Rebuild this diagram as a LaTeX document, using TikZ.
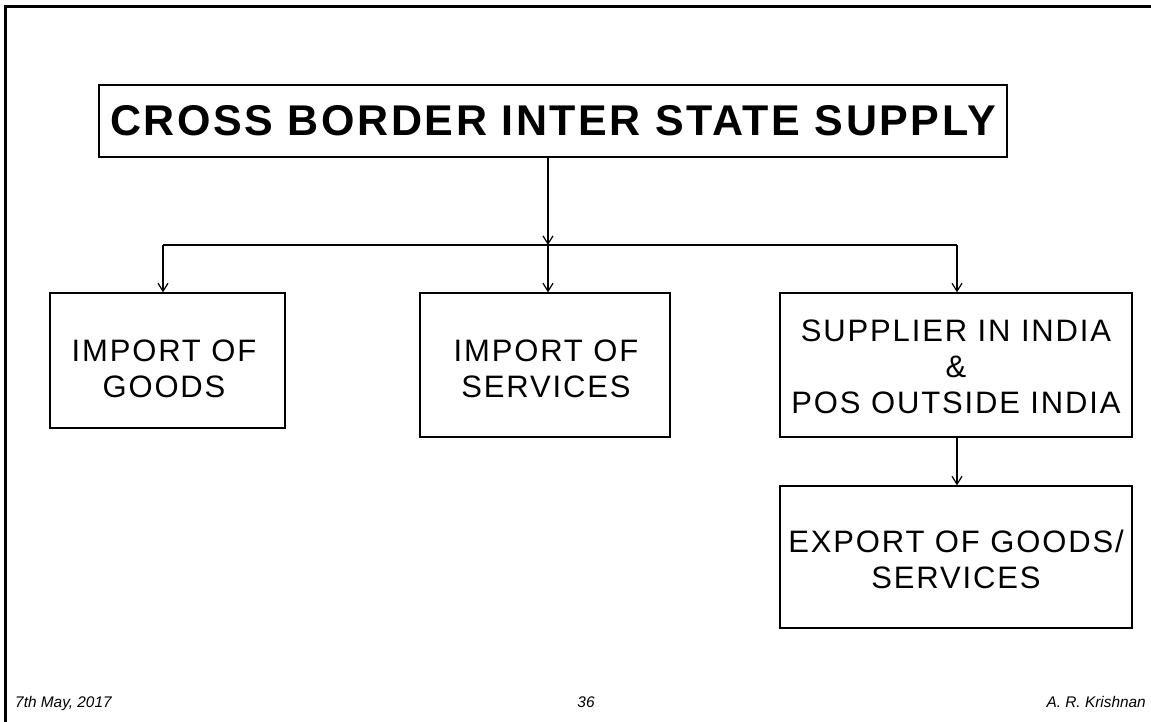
\documentclass[tikz,border=0pt]{standalone}
\usepackage{fontspec}
\setmainfont{Liberation Sans}
\newfontfamily\boxfont[LetterSpace=6]{Liberation Sans}
\newfontfamily\titlefont[LetterSpace=6]{Liberation Sans}
\usetikzlibrary{arrows.meta}
\begin{document}
\begin{tikzpicture}[x=1pt,y=-1pt,
  box/.style={draw=black,line width=1.3pt,inner sep=0pt},
  txt/.style={inner sep=0pt,align=center,font=\boxfont\fontsize{31}{36}\selectfont},
  conn/.style={line width=1.3pt,-{Straight Barb[length=8pt,width=10pt,line width=1.2pt]}},
  plain/.style={line width=1.3pt},
  foot/.style={font=\fontsize{15.4}{18}\selectfont\itshape,inner sep=0pt}]
\useasboundingbox (0,0) rectangle (1151,721);
% frame
\draw[line width=3pt] (5,722) -- (5,6) -- (1152,6);
% title
\node[box,minimum width=908pt,minimum height=72pt,font=\titlefont\fontsize{43}{50}\selectfont\bfseries]
  (title) at (553,121) {CROSS BORDER INTER STATE SUPPLY};
% boxes
\node[box,minimum width=235pt,minimum height=135pt] (goods) at (167.5,360.5) {};
\node[txt] (goodst) at (164,369) {IMPORT OF\\GOODS};
\node[box,minimum width=250pt,minimum height=144pt] (serv) at (545,365) {};
\node[txt] (servt) at (546,369) {IMPORT OF\\SERVICES};
\node[box,minimum width=352pt,minimum height=144pt] (supp) at (956,365) {};
\node[txt] (suppt) at (956,367) {SUPPLIER IN INDIA\\\&\\POS OUTSIDE INDIA};
\node[box,minimum width=352pt,minimum height=142pt] (exp) at (956,557) {};
\node[txt] (expt) at (956,559) {EXPORT OF GOODS/\\SERVICES};
% connectors
\coordinate (jm) at (548,245);
\coordinate (jl) at (163,245);
\coordinate (jr) at (957,245);
\draw[conn] (title.south -| jm) -- (jm);
\draw[plain] (jl) -- (jr);
\draw[conn] (jl) -- (jl |- goods.north);
\draw[conn] (jm) -- (jm |- serv.north);
\draw[conn] (jr) -- (jr |- supp.north);
\draw[conn] (supp.south -| jr) -- (jr |- exp.north);
% footer
\node[foot,anchor=base west] (date) at (15,707) {7th May, 2017};
\node[foot,anchor=base] (page) at (586,707) {36};
\node[foot,anchor=base east] (auth) at (1146,707) {A. R. Krishnan};
\end{tikzpicture}
\end{document}
